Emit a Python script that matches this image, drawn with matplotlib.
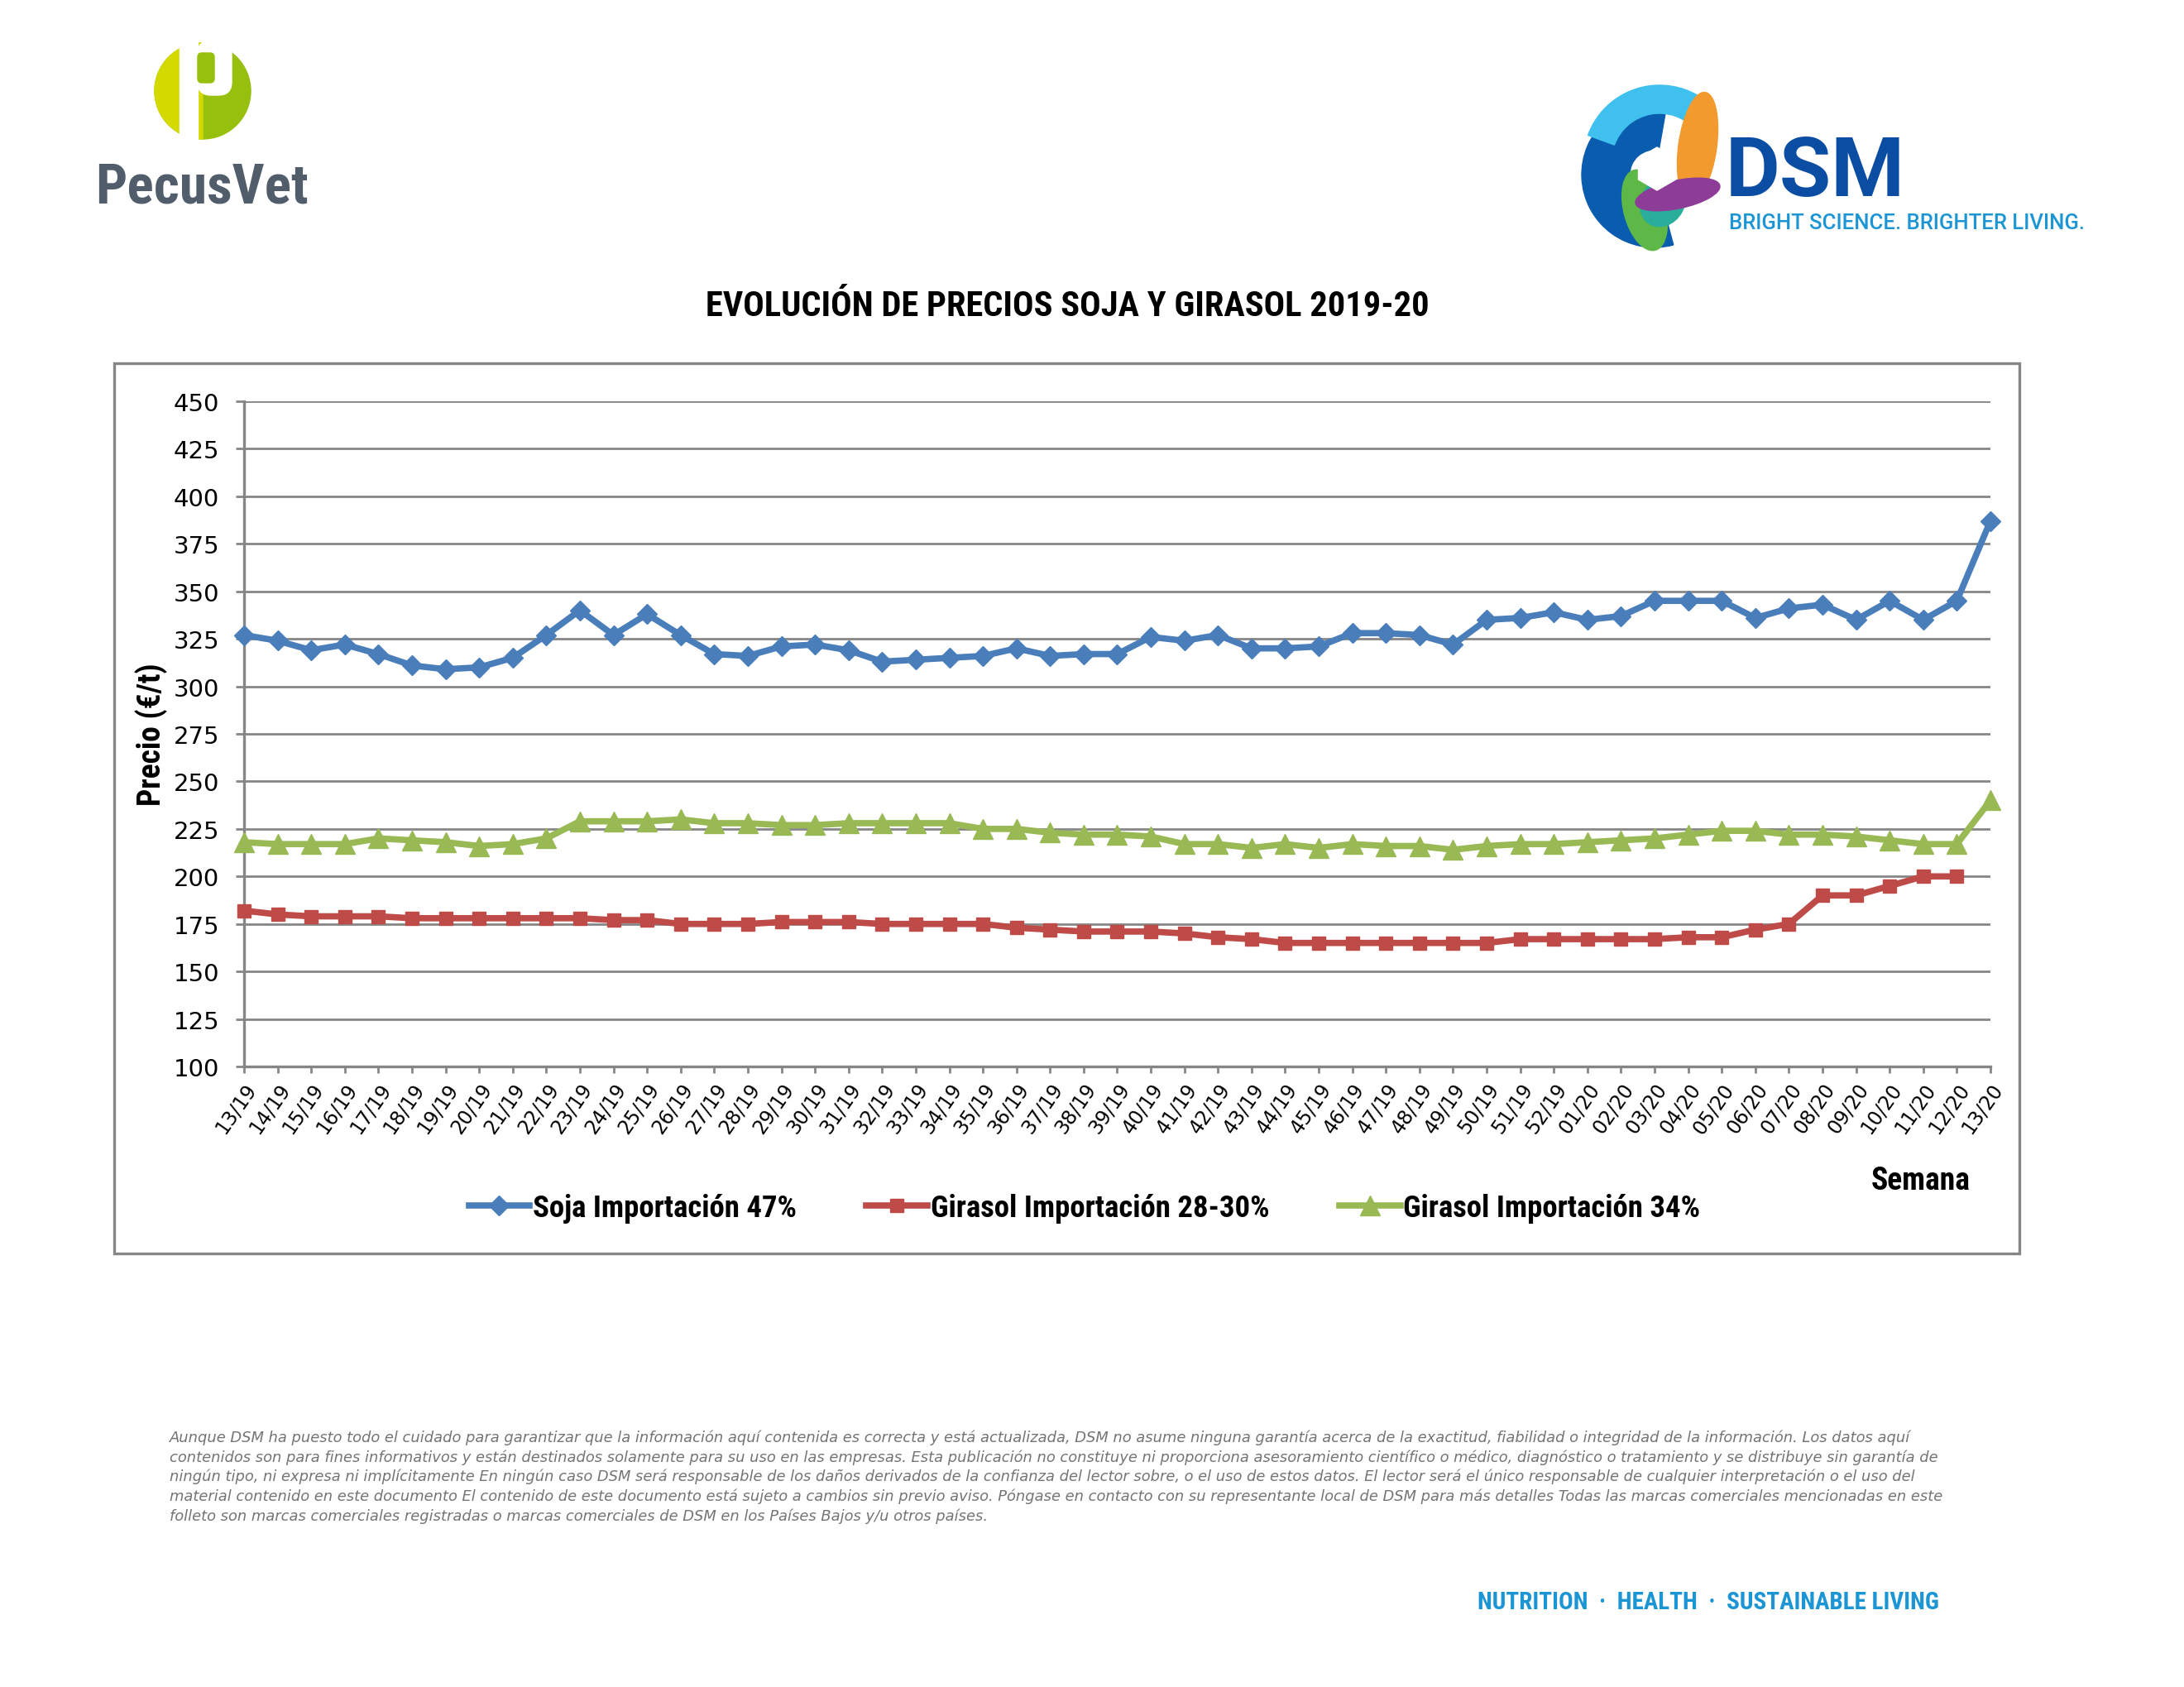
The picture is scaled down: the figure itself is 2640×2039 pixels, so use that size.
import numpy as np
import matplotlib
matplotlib.use("Agg")
import matplotlib.pyplot as plt
from matplotlib.patches import Circle, Wedge, Ellipse, Rectangle, FancyBboxPatch, RegularPolygon
from matplotlib.lines import Line2D

# semanas (eje x)
semanas = ["13/19", "14/19", "15/19", "16/19", "17/19", "18/19", "19/19", "20/19", "21/19",
           "22/19", "23/19", "24/19", "25/19", "26/19", "27/19", "28/19", "29/19", "30/19",
           "31/19", "32/19", "33/19", "34/19", "35/19", "36/19", "37/19", "38/19", "39/19",
           "40/19", "41/19", "42/19", "43/19", "44/19", "45/19", "46/19", "47/19", "48/19",
           "49/19", "50/19", "51/19", "52/19", "01/20", "02/20", "03/20", "04/20", "05/20",
           "06/20", "07/20", "08/20", "09/20", "10/20", "11/20", "12/20", "13/20"]

# precios en €/t
soja = [327, 324, 319, 322, 317, 311, 309, 310, 315, 327, 340, 327, 338, 327,
        317, 316, 321, 322, 319, 313, 314, 315, 316, 320, 316, 317, 317,
        326, 324, 327, 320, 320, 321, 328, 328, 327, 322, 335, 336, 339,
        335, 337, 345, 345, 345, 336, 341, 343, 335, 345, 335, 345, 387]
girasol_28 = [182, 180, 179, 179, 179, 178, 178, 178, 178, 178, 178, 177, 177, 175,
              175, 175, 176, 176, 176, 175, 175, 175, 175, 173, 172, 171, 171,
              171, 170, 168, 167, 165, 165, 165, 165, 165, 165, 165, 167, 167,
              167, 167, 167, 168, 168, 172, 175, 190, 190, 195, 200, 200, np.nan]
girasol_34 = [218, 217, 217, 217, 220, 219, 218, 216, 217, 220, 229, 229, 229, 230,
              228, 228, 227, 227, 228, 228, 228, 228, 225, 225, 223, 222, 222,
              221, 217, 217, 215, 217, 215, 217, 216, 216, 214, 216, 217, 217,
              218, 219, 220, 222, 224, 224, 222, 222, 221, 219, 217, 217, 240]

series_names = ["Soja Importación 47%", "Girasol Importación 28-30%", "Girasol Importación 34%"]

disclaimer = [
    "Aunque DSM ha puesto todo el cuidado para garantizar que la información aquí contenida es correcta y está actualizada, DSM no asume ninguna garantía acerca de la exactitud, fiabilidad o integridad de la información. Los datos aquí",
    "contenidos son para fines informativos y están destinados solamente para su uso en las empresas. Esta publicación no constituye ni proporciona asesoramiento científico o médico, diagnóstico o tratamiento y se distribuye sin garantía de",
    "ningún tipo, ni expresa ni implícitamente En ningún caso DSM será responsable de los daños derivados de la confianza del lector sobre, o el uso de estos datos. El lector será el único responsable de cualquier interpretación o el uso del",
    "material contenido en este documento El contenido de este documento está sujeto a cambios sin previo aviso. Póngase en contacto con su representante local de DSM para más detalles Todas las marcas comerciales mencionadas en este",
    "folleto son marcas comerciales registradas o marcas comerciales de DSM en los Países Bajos y/u otros países.",
]

COND = ["Roboto Condensed", "Liberation Sans Narrow", "Roboto", "DejaVu Sans"]
ROBOTO = ["Roboto", "DejaVu Sans"]
AZUL = "#4A7EBB"
ROJO = "#BE4B48"
VERDE = "#98B954"
GRIS = "#868686"

W, H = 2640, 2040
fig = plt.figure(figsize=(W / 100, H / 100), dpi=100)

# capa de decoración en pixeles (y hacia abajo)
deco = fig.add_axes([0, 0, 1, 1])
deco.set_xlim(0, W)
deco.set_ylim(H, 0)
deco.axis("off")

# logo PecusVet
deco.add_patch(Circle((245, 111), 58, color="#97BF0D"))
deco.add_patch(Wedge((245, 111), 58, 90, 270, color="#D4D900"))
deco.add_patch(Rectangle((217, 50), 22, 125, color="white"))
deco.add_patch(FancyBboxPatch((239, 50), 41, 66, boxstyle="round,pad=0,rounding_size=16", color="white"))
deco.add_patch(FancyBboxPatch((239, 65), 20, 36, boxstyle="round,pad=0,rounding_size=5", color="#97BF0D"))
deco.text(244, 227, "PecusVet", fontsize=48.5, fontweight="bold", color="#515D6B",
          family=COND, ha="center", va="center")

# logo DSM (aproximado)
deco.add_patch(Wedge((2000, 212), 88, 75, 280, width=58, color="#0A5CAE"))
deco.add_patch(Wedge((2006, 196), 92, 200, 318, width=34, color="#3FC0EE"))
deco.add_patch(Ellipse((2052, 178), 46, 132, angle=8, color="#F29A2E"))
deco.add_patch(Ellipse((1988, 255), 50, 100, angle=-15, color="#5DB848"))
deco.add_patch(Ellipse((2010, 245), 52, 62, angle=30, color="#2AAE9B"))
deco.add_patch(Ellipse((2028, 236), 104, 34, angle=-12, color="#8D3D97"))
deco.add_patch(RegularPolygon((2003, 205), 6, radius=26, color="white"))
deco.text(2086, 210, "DSM", fontsize=73, fontweight="bold", color="#0A4DA2",
          family=ROBOTO, ha="left", va="center")
deco.text(2090, 270, "BRIGHT SCIENCE. BRIGHTER LIVING.", fontsize=18.5, fontweight="medium",
          color="#1B95D4", family=ROBOTO, ha="left", va="center")

# título
deco.text(1290, 370, "EVOLUCIÓN DE PRECIOS SOJA Y GIRASOL 2019-20", fontsize=30.5,
          fontweight="bold", family=COND, ha="center", va="center")

# marco del gráfico
deco.add_patch(Rectangle((138, 440), 2303, 1076, fill=False, ec=GRIS, lw=2.4))

# gráfico
ax = fig.add_axes([295 / W, 1 - 1290 / H, (2406 - 295) / W, (1290 - 486) / H])
x = np.arange(len(semanas))
ax.plot(x, soja, color=AZUL, lw=5.5, marker="D", ms=12, clip_on=False, zorder=5)
ax.plot(x, girasol_28, color=ROJO, lw=5.5, marker="s", ms=11, clip_on=False, zorder=4)
ax.plot(x, girasol_34, color=VERDE, lw=5.5, marker="^", ms=17, clip_on=False, zorder=3)

ax.set_xlim(0, len(semanas) - 1)
ax.set_ylim(100, 450)
ax.set_yticks(np.arange(100, 451, 25))
ax.set_xticks(x)
ax.set_xticklabels(semanas, rotation=55, ha="right", rotation_mode="anchor", fontsize=17)
ax.tick_params(axis="y", labelsize=21, length=7.5, width=2, color=GRIS, pad=14)
ax.tick_params(axis="x", length=6, width=2, color=GRIS, pad=5)
ax.grid(axis="y", color=GRIS, lw=2.0)
ax.set_axisbelow(True)
for s in ["top", "right"]:
    ax.spines[s].set_visible(False)
for s in ["left", "bottom"]:
    ax.spines[s].set_color(GRIS)
    ax.spines[s].set_linewidth(2.4)

deco.text(183, 888, "Precio (€/t)", rotation=90, fontsize=27, fontweight="bold",
          family=COND, ha="center", va="center")
deco.text(2322, 1428, "Semana", fontsize=27, fontweight="bold", family=COND,
          ha="center", va="center")

handles = [
    Line2D([], [], color=AZUL, lw=5.5, marker="D", ms=12),
    Line2D([], [], color=ROJO, lw=5.5, marker="s", ms=11),
    Line2D([], [], color=VERDE, lw=5.5, marker="^", ms=17),
]
fig.legend(handles, series_names, loc="center", bbox_to_anchor=(1311 / W, 1 - 1461 / H),
           ncol=3, frameon=False, handlelength=2.0, handletextpad=0.1, columnspacing=2.3,
           prop={"family": COND, "weight": "bold", "size": 26.5})

# texto legal
for i, linea in enumerate(disclaimer):
    deco.text(205, 1738 + i * 23.6, linea, fontsize=12.9, style="italic", color="#747474",
              family="DejaVu Sans", ha="left", va="center")

deco.text(2344, 1937, "NUTRITION  ·  HEALTH  ·  SUSTAINABLE LIVING", fontsize=21,
          fontweight="bold", color="#1B95D4", family=COND, ha="right", va="center")

fig.savefig("out.png", dpi=100)
